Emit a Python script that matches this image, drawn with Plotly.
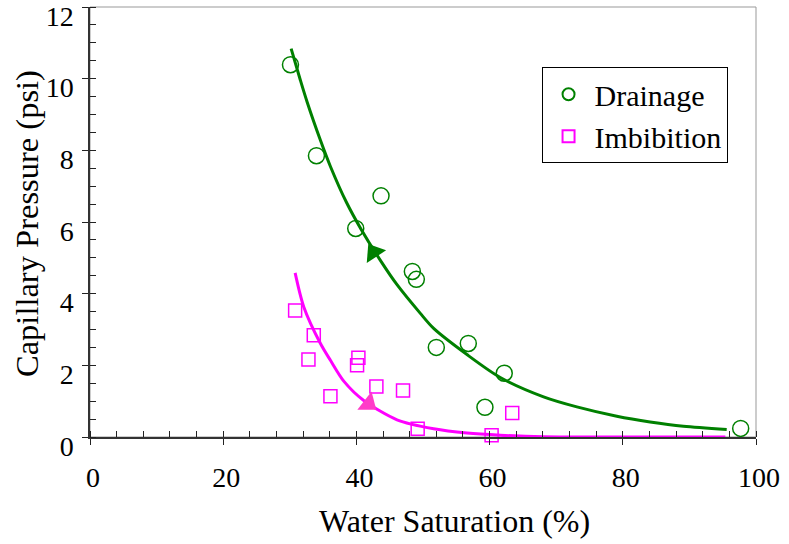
import plotly.graph_objects as go

# Measured points
drain_x = [30.1, 34.0, 39.9, 43.7, 48.4, 49.0, 52.0, 56.8, 62.2, 59.3, 97.7]
drain_y = [10.39, 7.85, 5.82, 6.73, 4.62, 4.40, 2.50, 2.61, 1.78, 0.83, 0.24]

imb_x = [30.8, 33.6, 32.8, 40.3, 40.1, 36.1, 43.0, 47.0, 49.2, 60.3, 63.4]
imb_y = [3.53, 2.84, 2.16, 2.21, 2.00, 1.14, 1.41, 1.30, 0.23, 0.05, 0.67]

# Fitted curves
drain_curve_x = [30.2, 31.6, 32.6, 34.6, 36.1, 38.5, 40.7, 43.6, 46.1, 49.6, 51.6,
                 56.6, 61.6, 68.1, 73.1, 79.1, 84.1, 89.1, 95.6]
drain_curve_y = [10.84, 9.95, 9.35, 8.28, 7.55, 6.55, 5.80, 4.93, 4.25, 3.45, 3.03,
                 2.30, 1.66, 1.12, 0.84, 0.58, 0.42, 0.30, 0.21]

imb_curve_x = [30.8, 32.1, 34.6, 36.1, 38.1, 41.1, 46.1, 51.6, 56.6, 61.6, 68.1, 80.0, 95.4]
imb_curve_y = [4.58, 3.63, 2.61, 2.14, 1.56, 1.02, 0.48, 0.23, 0.11, 0.05, 0.01, 0.0, 0.0]

# Direction arrows
arrow_drain_x, arrow_drain_y, arrow_drain_angle = [42.6], [5.15], -33
arrow_imb_x, arrow_imb_y, arrow_imb_angle = [41.8], [0.93], 128

x_title = "Water Saturation (%)"
y_title = "Capillary Pressure (psi)"

GREEN = "#008000"
MAG = "#FF00FF"
FONT = "serif"

fig = go.Figure()

fig.add_trace(go.Scatter(x=drain_curve_x, y=drain_curve_y, mode="lines",
                         line=dict(color=GREEN, width=3, shape="spline", smoothing=0.8),
                         showlegend=False, cliponaxis=False, hoverinfo="skip"))
fig.add_trace(go.Scatter(x=imb_curve_x, y=imb_curve_y, mode="lines",
                         line=dict(color=MAG, width=3, shape="spline", smoothing=0.8),
                         showlegend=False, cliponaxis=False, hoverinfo="skip"))

fig.add_trace(go.Scatter(x=drain_x, y=drain_y, mode="markers", name="Drainage",
                         marker=dict(symbol="circle-open", size=16, color=GREEN,
                                     line=dict(color=GREEN, width=1.5)),
                         cliponaxis=False))
fig.add_trace(go.Scatter(x=imb_x, y=imb_y, mode="markers", name="Imbibition",
                         marker=dict(symbol="square-open", size=13, color=MAG,
                                     line=dict(color=MAG, width=1.5)),
                         cliponaxis=False))

fig.add_trace(go.Scatter(x=arrow_drain_x, y=arrow_drain_y, mode="markers",
                         marker=dict(symbol="triangle-up", size=20, color=GREEN,
                                     angle=arrow_drain_angle, line=dict(width=0)),
                         showlegend=False, hoverinfo="skip"))
fig.add_trace(go.Scatter(x=arrow_imb_x, y=arrow_imb_y, mode="markers",
                         marker=dict(symbol="triangle-up", size=20, color="#FF3CC8",
                                     angle=arrow_imb_angle, line=dict(width=0)),
                         showlegend=False, hoverinfo="skip"))

axis_common = dict(showgrid=False, zeroline=False, showline=True, linecolor="#333333",
                   linewidth=1.5, ticks="outside", ticklen=6, tickwidth=1.2, automargin=False,
                   tickcolor="#222222", tickfont=dict(family=FONT, size=28, color="black"))

fig.update_layout(
    width=789, height=544,
    paper_bgcolor="white", plot_bgcolor="white",
    margin=dict(l=89.5, r=33, t=7, b=107.3, autoexpand=False),
    font=dict(family=FONT, color="black"),
    xaxis=dict(range=[0, 100], dtick=20, tick0=0,
               minor=dict(ticks="inside", ticklen=6, dtick=4, tickcolor="#222222", tickwidth=1.2),
               ticklabelshift=3, ticklabelstandoff=9, **axis_common),
    yaxis=dict(range=[0, 12], dtick=2, tick0=0,
               minor=dict(ticks="inside", ticklen=6, dtick=0.5, tickcolor="#222222", tickwidth=1.2),
               ticklabelshift=9, ticklabelstandoff=3, **axis_common),
    xaxis2=dict(overlaying="x", matches="x", anchor="y", side="bottom", range=[0, 100], dtick=20,
                ticks="inside", ticklen=6, tickwidth=1.2, tickcolor="#222222", automargin=False,
                showticklabels=False, showline=False, showgrid=False, zeroline=False),
    yaxis2=dict(overlaying="y", matches="y", anchor="x", side="left", range=[0, 12], dtick=2,
                ticks="inside", ticklen=6, tickwidth=1.2, tickcolor="#222222", automargin=False,
                showticklabels=False, showline=False, showgrid=False, zeroline=False),
    legend=dict(x=0.678, y=0.860, xanchor="left", yanchor="top",
                bgcolor="white", bordercolor="black", borderwidth=1,
                font=dict(family=FONT, size=30, color="black"),
                tracegroupgap=0, itemsizing="constant", itemwidth=42),
    shapes=[dict(type="rect", xref="paper", yref="paper", x0=0, x1=1, y0=0, y1=1,
                 line=dict(color="#999999", width=1), layer="below")],
    annotations=[
        dict(text=x_title, xref="paper", yref="paper", x=0.547, y=-0.196,
             xanchor="center", yanchor="middle", showarrow=False,
             font=dict(family=FONT, size=32, color="black")),
        dict(text=y_title, xref="paper", yref="paper", x=-0.0938, y=0.4966, textangle=-90,
             xanchor="center", yanchor="middle", showarrow=False,
             font=dict(family=FONT, size=32.5, color="black")),
    ],
)

fig.add_trace(go.Scatter(x=[None], y=[None], xaxis="x2", yaxis="y2", showlegend=False,
                         hoverinfo="skip"))

fig.write_html("out.html", config={"displayModeBar": False},
               post_script="document.body.style.margin='0';document.body.style.padding='0';")
